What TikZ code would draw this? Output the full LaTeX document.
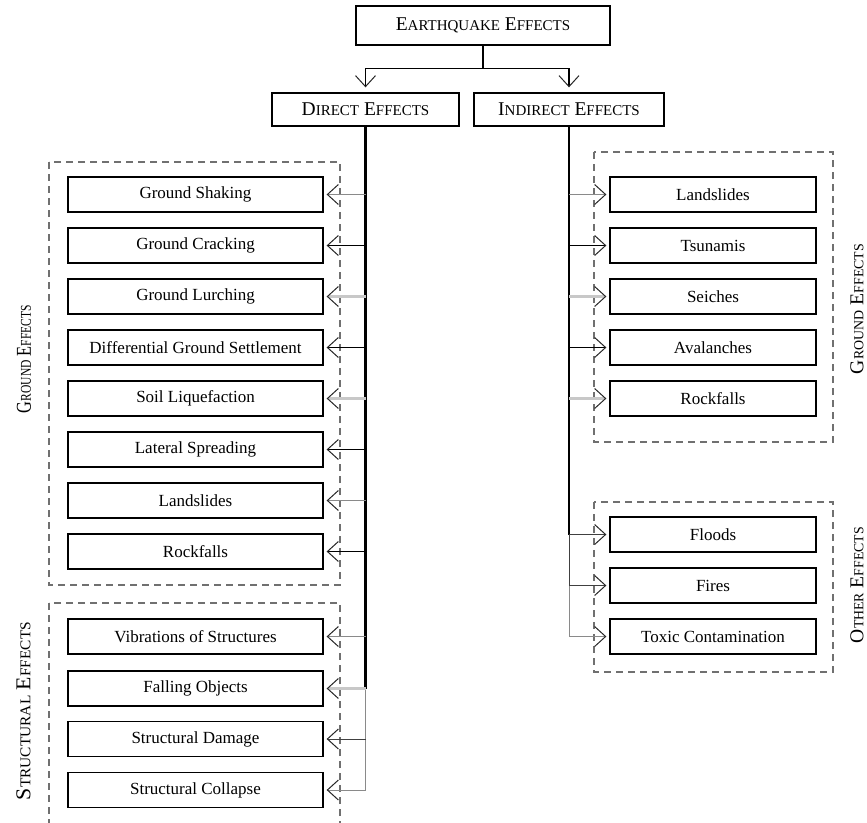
\documentclass[tikz,border=0pt]{standalone}
\usepackage{fontspec}
\usepackage{graphicx}
\setmainfont{Liberation Serif}
\usetikzlibrary{arrows.meta}

% small-caps look: full-size initial, smaller capitals after it
\newcommand\headsc[2]{#1{\fontsize{15}{15}\selectfont #2}}
\newcommand\sidesc[2]{#1{\fontsize{12}{12}\selectfont #2}}

\definecolor{dashgray}{HTML}{707070}
\definecolor{midgray}{HTML}{8A8A8A}
\definecolor{palegray}{HTML}{C8C8C8}

\tikzset{
  box/.style={draw, line width=1.3pt, inner sep=0pt, fill=white},
  headbox/.style={box, font=\fontsize{19.5}{22}\selectfont},
  leftbox/.style={box, minimum width=255pt, minimum height=35pt},
  rightbox/.style={box, minimum width=206pt, minimum height=35pt},
  group/.style={draw=dashgray, line width=1.2pt, dash pattern=on 7pt off 5pt},
  sidelabel/.style={rotate=90, inner sep=0pt},
  cblack/.style={->, line width=1.2pt, draw=black},
  cdark/.style={->, line width=1pt, draw=black!75},
  cgray/.style={->, line width=1pt, draw=midgray},
  cpale/.style={->, line width=2.2pt, draw=palegray},
  gap/.style={shorten >=3pt},
}

\begin{document}
\begin{tikzpicture}[x=1pt, y=-1pt, font=\fontsize{17}{20}\selectfont,
  >={Straight Barb[length=11pt, width=20pt, line width=1pt 0 1, color=black!85]}]
\useasboundingbox (0,0) rectangle (867,822);
\clip (0,0) rectangle (867,822);

% group frames
\draw[group] (49,162) rectangle (340,585);
\draw[group] (49,603) rectangle (340,840);
\draw[group] (594,152) rectangle (833,442);
\draw[group] (594,502) rectangle (833,672);

% headings
\node[headbox, minimum width=254pt, minimum height=39pt] (eq) at (483,25.5)
  {\headsc{E}{ARTHQUAKE} \headsc{E}{FFECTS}};
\node[headbox, minimum width=187pt, minimum height=33pt] (dir) at (365.5,109.5)
  {\headsc{D}{IRECT} \headsc{E}{FFECTS}};
\node[headbox, minimum width=190pt, minimum height=33pt] (ind) at (569,109.5)
  {\headsc{I}{NDIRECT} \headsc{E}{FFECTS}};

% direct effects
\node[leftbox] (l1)  at (195.5,194.5) {Ground Shaking};
\node[leftbox] (l2)  at (195.5,245.5) {Ground Cracking};
\node[leftbox] (l3)  at (195.5,296.5) {Ground Lurching};
\node[leftbox] (l4)  at (195.5,347.5) {Differential Ground Settlement};
\node[leftbox] (l5)  at (195.5,398.5) {Soil Liquefaction};
\node[leftbox] (l6)  at (195.5,449.5) {Lateral Spreading};
\node[leftbox] (l7)  at (195.5,500.5) {Landslides};
\node[leftbox] (l8)  at (195.5,551.5) {Rockfalls};
\node[leftbox] (l9)  at (195.5,636.5) {Vibrations of Structures};
\node[leftbox] (l10) at (195.5,688.5) {Falling Objects};
\node[leftbox] (l11) at (195.5,739)   {Structural Damage};
\node[leftbox] (l12) at (195.5,790)   {Structural Collapse};

% indirect effects
\node[rightbox] (r1) at (713,194.5) {Landslides};
\node[rightbox] (r2) at (713,245.5) {Tsunamis};
\node[rightbox] (r3) at (713,296.5) {Seiches};
\node[rightbox] (r4) at (713,347.5) {Avalanches};
\node[rightbox] (r5) at (713,398.5) {Rockfalls};
\node[rightbox] (r6) at (713,534.5) {Floods};
\node[rightbox] (r7) at (713,585.5) {Fires};
\node[rightbox] (r8) at (713,636.5) {Toxic Contamination};

% group labels
\node[sidelabel] (gl) at (24,359)
  {\resizebox{108pt}{14pt}{\sidesc{G}{ROUND} \sidesc{E}{FFECTS}}};
\node[sidelabel] (sl) at (23.5,711)
  {\resizebox{178pt}{14pt}{\sidesc{S}{TRUCTURAL} \sidesc{E}{FFECTS}}};
\node[sidelabel] (gr) at (857,309)
  {\resizebox{130pt}{13pt}{\sidesc{G}{ROUND} \sidesc{E}{FFECTS}}};
\node[sidelabel] (or) at (857,585)
  {\resizebox{116pt}{13pt}{\sidesc{O}{THER} \sidesc{E}{FFECTS}}};

% split from the top heading
\draw[line width=1.2pt] (eq.south) -- ++(0,23) coordinate (fork);
\draw[cblack, shorten >=5pt] (fork) -| (dir.north);
\draw[cblack, shorten >=5pt] (fork) -| (ind.north);

% trunks
\draw[line width=3pt] (dir.south) -- (dir.south |- l10.east);
\draw[line width=1pt, midgray] (dir.south |- l10.east) -- (dir.south |- l12.east);
\draw[line width=2.6pt] (ind.south) -- (ind.south |- r6.west);
\draw[line width=1pt, black!75] (ind.south |- r6.west) -- (ind.south |- r7.west);
\draw[line width=1pt, midgray] (ind.south |- r7.west) -- (ind.south |- r8.west);

% branches to direct effects
\draw[cgray, gap]  (dir.south |- l1.east)  -- (l1.east);
\draw[cblack, gap] (dir.south |- l2.east)  -- (l2.east);
\draw[cpale, gap]  (dir.south |- l3.east)  -- (l3.east);
\draw[cblack, gap] (dir.south |- l4.east)  -- (l4.east);
\draw[cpale, gap]  (dir.south |- l5.east)  -- (l5.east);
\draw[cblack, gap] (dir.south |- l6.east)  -- (l6.east);
\draw[cgray, gap]  (dir.south |- l7.east)  -- (l7.east);
\draw[cblack, gap] (dir.south |- l8.east)  -- (l8.east);
\draw[cgray, gap]  (dir.south |- l9.east)  -- (l9.east);
\draw[cpale, gap]  (dir.south |- l10.east) -- (l10.east);
\draw[cdark, gap]  (dir.south |- l11.east) -- (l11.east);
\draw[cgray, gap]  (dir.south |- l12.east) -- (l12.east);

% branches to indirect effects
\draw[cgray, gap]  (ind.south |- r1.west) -- (r1.west);
\draw[cblack, gap] (ind.south |- r2.west) -- (r2.west);
\draw[cpale, gap]  (ind.south |- r3.west) -- (r3.west);
\draw[cblack, gap] (ind.south |- r4.west) -- (r4.west);
\draw[cpale, gap]  (ind.south |- r5.west) -- (r5.west);
\draw[cdark, gap]  (ind.south |- r6.west) -- (r6.west);
\draw[cdark, gap]  (ind.south |- r7.west) -- (r7.west);
\draw[cgray, gap]  (ind.south |- r8.west) -- (r8.west);
\end{tikzpicture}
\end{document}
